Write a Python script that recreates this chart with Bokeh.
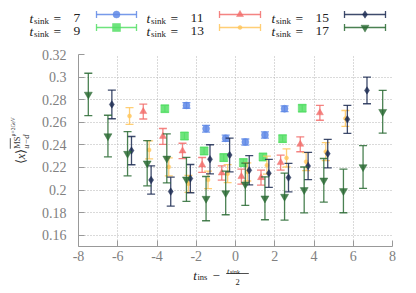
import math
from bokeh.plotting import figure
from bokeh.models import Range1d, FixedTicker, ColumnDataSource
from bokeh.layouts import column, row
from bokeh.embed import file_html
from bokeh.resources import INLINE
from bokeh.core.properties import value

# ---------------- data ----------------
tsink_values = [7, 9, 11, 13, 15, 17]

x7 = [-2.5, -1.5, -0.5, 0.5, 1.5, 2.5]
y7 = [0.2749, 0.2543, 0.2458, 0.2425, 0.2487, 0.2720]
e7 = [0.0025, 0.0030, 0.0028, 0.0027, 0.0028, 0.0025]

x9 = [-3.5, -2.5, -1.5, -0.5, 0.5, 1.5, 2.5, 3.5]
y9 = [0.2720, 0.2478, 0.2346, 0.2287, 0.2243, 0.2293, 0.2455, 0.2725]
e9 = [0.0030, 0.0032, 0.0032, 0.0033, 0.0033, 0.0032, 0.0032, 0.0030]

x11 = [-4.5, -3.5, -2.5, -1.5, -0.5, 0.5, 1.5, 2.5, 3.5, 4.5]
y11 = [0.2695, 0.2475, 0.2346, 0.2222, 0.2151, 0.2119, 0.2110, 0.2243, 0.2405, 0.2684]
e11 = [0.0066, 0.0070, 0.0068, 0.0066, 0.0063, 0.0066, 0.0066, 0.0066, 0.0066, 0.0066]

x13 = [-5.5, -4.5, -3.5, -2.5, -1.5, -0.5, 0.5, 1.5, 2.5, 3.5, 4.5, 5.5]
y13 = [0.2655, 0.2355, 0.2205, 0.2055, 0.2090, 0.2145, 0.2160, 0.2220, 0.2284, 0.2251, 0.2340, 0.2634]
e13 = [0.0074, 0.0080, 0.0079, 0.0075, 0.0078, 0.0080, 0.0080, 0.0080, 0.0080, 0.0080, 0.0080, 0.0070]

x15 = [-6.5, -5.5, -4.5, -3.5, -2.5, -1.5, -0.5, 0.5, 1.5, 2.5, 3.5, 4.5, 5.5, 6.5]
y15 = [0.2758, 0.2349, 0.2089, 0.1986, 0.2101, 0.2272, 0.2310, 0.2175, 0.2148, 0.2110, 0.2213, 0.2322, 0.2626, 0.2882]
e15 = [0.0127, 0.0125, 0.0125, 0.0128, 0.0125, 0.0129, 0.0150, 0.0130, 0.0124, 0.0126, 0.0121, 0.0126, 0.0124, 0.0118]

x17 = [-7.5, -6.5, -5.5, -4.5, -3.5, -2.5, -1.5, -0.5, 0.5, 1.5, 2.5, 3.5, 4.5, 5.5, 6.5, 7.5]
y17 = [0.2846, 0.2478, 0.2322, 0.2237, 0.2280, 0.2095, 0.1924, 0.1974, 0.2051, 0.1927, 0.1942, 0.2001, 0.2086, 0.1992, 0.2204, 0.2693]
e17 = [0.0188, 0.0184, 0.0196, 0.0200, 0.0217, 0.0195, 0.0196, 0.0193, 0.0187, 0.0190, 0.0208, 0.0203, 0.0193, 0.0193, 0.0189, 0.0190]

x_ticks = [-8, -6, -4, -2, 0, 2, 4, 6, 8]
x_tick_labels = ["-8", "-6", "-4", "-2", "0", "2", "4", "6", "8"]
y_ticks = [0.16, 0.18, 0.20, 0.22, 0.24, 0.26, 0.28, 0.30, 0.32]
y_tick_labels = ["0.16", "0.18", "0.2", "0.22", "0.24", "0.26", "0.28", "0.3", "0.32"]

# ---------------- styles ----------------
FONT_NAME = "'Liberation Serif', serif"
SERIF = value(FONT_NAME)
styles = {
    7:  dict(color="#5f88e6", marker="circle", size=7, shift=0.0, xs=x7, ys=y7, es=e7),
    9:  dict(color="#55df66", marker="square", size=8, shift=-0.1, xs=x9, ys=y9, es=e9),
    11: dict(color="#f26f6c", marker="triangle", size=7, shift=-0.2, xs=x11, ys=y11, es=e11),
    13: dict(color="#ffc75e", marker="circle", size=4, shift=0.1, xs=x13, ys=y13, es=e13),
    15: dict(color="#1c2b52", marker="diamond", size=7.5, shift=0.2, xs=x15, ys=y15, es=e15),
    17: dict(color="#2a6b34", marker="inverted_triangle", size=8, shift=0.0, xs=x17, ys=y17, es=e17),
}
ALPHA = 0.85
LW = 1.3
CAP = 8

# ---------------- main plot ----------------
p = figure(width=386, height=218, x_range=Range1d(-8, 8), y_range=Range1d(0.15, 0.32),
           output_backend="svg", toolbar_location=None, tools="",
           min_border_left=48, min_border_right=24, min_border_top=6, min_border_bottom=20)
p.outline_line_color = None
p.background_fill_color = "white"
p.border_fill_color = "white"

p.xaxis.ticker = FixedTicker(ticks=x_ticks)
p.xaxis.major_label_overrides = {t: l for t, l in zip(x_ticks, x_tick_labels)}
p.yaxis.ticker = FixedTicker(ticks=y_ticks)
p.yaxis.major_label_overrides = {t: l for t, l in zip(y_ticks, y_tick_labels)}
for ax in (p.xaxis[0], p.yaxis[0]):
    ax.axis_line_color = "#999999"
    ax.axis_line_width = 1
    ax.major_tick_line_color = "#999999"
    ax.major_tick_in = 6
    ax.major_tick_out = 0
    ax.minor_tick_line_color = None
    ax.major_label_text_font = FONT_NAME
    ax.major_label_text_font_size = "14px"
    ax.major_label_text_color = "#808080"
p.yaxis.major_label_standoff = 12
p.xaxis.major_label_standoff = 4
p.grid.grid_line_color = "#b5b5b5"
p.grid.grid_line_dash = "1 2"
p.grid.grid_line_width = 1

for ts in tsink_values:
    st = styles[ts]
    xs = [x + st["shift"] for x in st["xs"]]
    up = [y + e for y, e in zip(st["ys"], st["es"])]
    lo = [y - e for y, e in zip(st["ys"], st["es"])]
    src = ColumnDataSource(dict(x=xs, y=st["ys"], up=up, lo=lo))
    c = st["color"]
    p.segment(x0="x", y0="lo", x1="x", y1="up", source=src, line_color=c, line_width=LW, line_alpha=ALPHA)
    p.scatter(x="x", y="up", source=src, marker="dash", size=CAP, line_color=c, line_width=LW, line_alpha=ALPHA)
    p.scatter(x="x", y="lo", source=src, marker="dash", size=CAP, line_color=c, line_width=LW, line_alpha=ALPHA)
    p.scatter(x="x", y="y", source=src, marker=st["marker"], size=st["size"],
              fill_color=c, line_color=c, fill_alpha=ALPHA, line_alpha=ALPHA, line_width=0.5)


def txt(fig, x, y, s, size, style="normal", align="left", baseline="alphabetic", angle=0.0, color="#222222"):
    fig.text(x=[x], y=[y], text=[s], text_font=SERIF, text_font_size=f"{size}px",
             text_font_style=style, text_align=align, text_baseline=baseline, angle=angle,
             text_color=color)


def blank(width, height, xr, yr):
    f = figure(width=width, height=height, x_range=xr, y_range=yr, output_backend="svg",
               toolbar_location=None, tools="", x_axis_location=None, y_axis_location=None,
               min_border_left=0, min_border_right=0, min_border_top=0, min_border_bottom=0)
    f.outline_line_color = None
    f.grid.visible = False
    f.background_fill_color = "white"
    f.border_fill_color = "white"
    return f

# ---------------- legend (top) ----------------
leg = blank(416, 48, Range1d(0, 416), Range1d(48, 0))
col_text_x = [29, 146, 271]
col_sample_x = [(96, 136), (219, 260), (344, 385)]
row_line_y = [14, 27]
row_base_y = [17.5, 30.5]
order = [[7, 9], [11, 13], [15, 17]]
for ci, pair in enumerate(order):
    for ri, ts in enumerate(pair):
        st = styles[ts]
        c = st["color"]
        tx = col_text_x[ci]
        by = row_base_y[ri]
        txt(leg, tx, by, "t", 13.5, style="italic")
        txt(leg, tx + 4.4, by + 2.5, "sink", 9)
        txt(leg, tx + 24, by, "=", 13.5)
        txt(leg, tx + 44, by, str(ts), 13.5)
        x0, x1 = col_sample_x[ci]
        ly = row_line_y[ri]
        leg.segment(x0=[x0], y0=[ly], x1=[x1], y1=[ly], line_color=c, line_width=LW, line_alpha=ALPHA)
        leg.segment(x0=[x0, x1], y0=[ly - 3.5, ly - 3.5], x1=[x0, x1], y1=[ly + 3.5, ly + 3.5],
                    line_color=c, line_width=LW, line_alpha=ALPHA)
        leg.scatter(x=[(x0 + x1) / 2], y=[ly], marker=st["marker"], size=st["size"],
                    fill_color=c, line_color=c, fill_alpha=ALPHA, line_alpha=ALPHA, line_width=0.5)

# ---------------- y label (left) ----------------
ylab = blank(30, 218, Range1d(0, 30), Range1d(0, 218))
A = math.pi / 2
ycol = "#333333"
txt(ylab, 20, 94, "\u27e8", 12.5, angle=A, color=ycol)
txt(ylab, 20, 99, "x", 12.5, style="italic", angle=A, color=ycol)
txt(ylab, 20, 104.5, "\u27e9", 12.5, angle=A, color=ycol)
txt(ylab, 25.5, 111, "u\u2212d", 8.5, style="italic", angle=A, color=ycol)
txt(ylab, 16.5, 111, "MS", 8.5, angle=A, color=ycol)
ylab.segment(x0=[9.8], y0=[111], x1=[9.8], y1=[123], line_color=ycol, line_width=0.8)
txt(ylab, 12.5, 125, "\u03bc=2GeV", 5.5, angle=A, color=ycol)

# ---------------- x label (bottom) ----------------
xlab = blank(416, 27, Range1d(0, 416), Range1d(27, 0))
txt(xlab, 192.7, 9, "t", 13, style="italic")
txt(xlab, 197, 10.5, "ins", 8.5)
txt(xlab, 212, 9, "\u2212", 13)
txt(xlab, 226.5, 4, "t", 8.5, style="italic")
txt(xlab, 229.5, 5.5, "sink", 6)
xlab.segment(x0=[225.7], y0=[7], x1=[248.3], y1=[7], line_color="#222222", line_width=0.8)
txt(xlab, 237, 15.7, "2", 8.5, align="center")

layout = column(leg, row(ylab, p), xlab)
open("out.html", "w").write(file_html(layout, INLINE))
